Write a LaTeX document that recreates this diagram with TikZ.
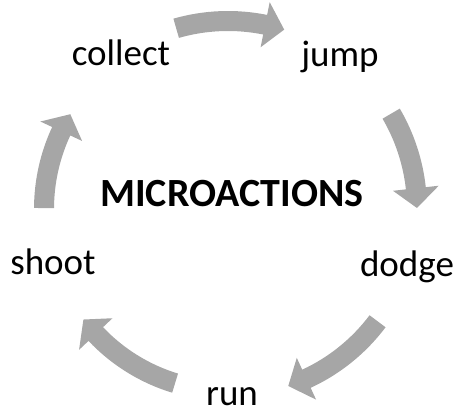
\documentclass[tikz,border=0pt]{standalone}
\usepackage{fontspec}
\setmainfont{Carlito}
\definecolor{arrowgray}{RGB}{166,166,166}
\tikzset{
  arrowfill/.style={fill=arrowgray, draw=none},
  lbl/.style={anchor=base, inner sep=0pt, font=\fontsize{37}{40}\selectfont, text=black},
  title/.style={anchor=base, inner sep=0pt, font=\fontsize{40}{44}\selectfont\bfseries, text=black}
}
\newcommand\cyclearrow[3]{%
  \fill[arrowfill] ({#1}:{#3+10}) arc[start angle={#1}, end angle={#2+6}, radius={#3+10}]
    -- ({#2+6}:{#3+23}) -- ({#2}:{#3}) -- ({#2+6}:{#3-23}) -- ({#2+6}:{#3-10})
    arc[start angle={#2+6}, end angle={#1}, radius={#3-10}] -- cycle;}
\begin{document}
\begin{tikzpicture}[x=1pt,y=1pt]
\useasboundingbox (0,0) rectangle (459,412);
\begin{scope}[shift={(228,203)}]
  \cyclearrow{106}{72.6}{188}
  \cyclearrow{30.3}{0.3}{189}
  \cyclearrow{-36.9}{-71.2}{187}
  \cyclearrow{253.1}{217.4}{182}
  \cyclearrow{179.7}{149}{184}
\end{scope}
\node[lbl] (collect) at (121,346) {collect};
\node[lbl] (jump) at (340,345) {jump};
\node[title] (micro) at (232,205) {MICROACTIONS};
\node[lbl] (shoot) at (53,137) {shoot};
\node[lbl] (dodge) at (407,135) {dodge};
\node[lbl] (run) at (232,6) {run};
\end{tikzpicture}
\end{document}
